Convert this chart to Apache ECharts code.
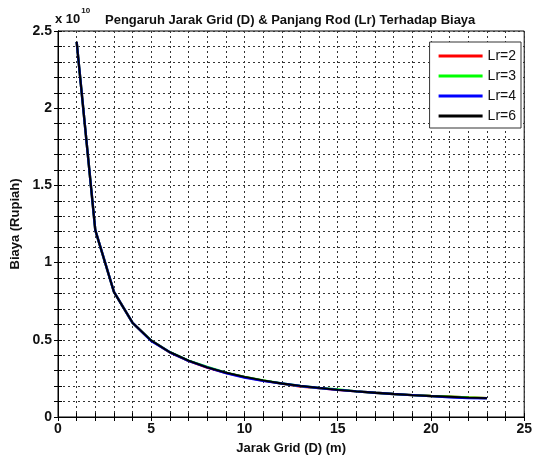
<!DOCTYPE html>
<html>
<head>
<meta charset="utf-8">
<script src="https://cdn.jsdelivr.net/npm/echarts@6/dist/echarts.min.js"></script>
<style>
  html, body { margin: 0; padding: 0; background: #fff; }
  #main { width: 535px; height: 460px; }
</style>
</head>
<body>
<div id="main"></div>
<script>
// jarak grid D (m)
var jarak = [1, 2, 3, 4, 5, 6, 7, 8, 9, 10, 11, 12, 13, 14, 15, 16, 17, 18, 19, 20, 21, 22, 23];
// biaya dalam satuan 10^10 Rupiah
var biayaLr2 = [2.43, 1.21, 0.81, 0.61, 0.495, 0.418, 0.363, 0.320, 0.286, 0.259, 0.236, 0.216, 0.197, 0.187, 0.176, 0.166, 0.157, 0.149, 0.142, 0.136, 0.131, 0.126, 0.122];
var biayaLr3 = [2.43, 1.21, 0.81, 0.61, 0.495, 0.420, 0.365, 0.325, 0.287, 0.260, 0.237, 0.217, 0.201, 0.188, 0.179, 0.166, 0.157, 0.149, 0.142, 0.136, 0.131, 0.126, 0.122];
var biayaLr4 = [2.43, 1.21, 0.81, 0.61, 0.493, 0.419, 0.364, 0.322, 0.285, 0.256, 0.234, 0.217, 0.201, 0.188, 0.176, 0.166, 0.157, 0.149, 0.142, 0.135, 0.127, 0.122, 0.121];
var biayaLr6 = [2.43, 1.21, 0.81, 0.61, 0.495, 0.420, 0.365, 0.322, 0.287, 0.260, 0.237, 0.217, 0.201, 0.188, 0.176, 0.166, 0.157, 0.149, 0.142, 0.136, 0.131, 0.126, 0.122];
var seriesNames = ['Lr=2', 'Lr=3', 'Lr=4', 'Lr=6'];
var seriesColors = ['#ff0000', '#00ff00', '#0000ff', '#000000'];

var chart = echarts.init(document.getElementById('main'), null, { renderer: 'canvas' });

function pairs(ys) {
  return jarak.map(function (d, i) { return [d, ys[i]]; });
}

var font = 'Liberation Sans, Arial, sans-serif';
var gridLine = { show: true, lineStyle: { color: '#333', width: 1, type: [2, 3] } };

var allData = [biayaLr2, biayaLr3, biayaLr4, biayaLr6];
var series = allData.map(function (ys, i) {
  return {
    name: seriesNames[i],
    type: 'line',
    data: pairs(ys),
    showSymbol: false,
    symbol: 'none',
    lineStyle: { color: seriesColors[i], width: i === 3 ? 1.8 : 2.4 },
    itemStyle: { color: seriesColors[i] },
    z: 10 + i
  };
});

var option = {
  backgroundColor: '#fff',
  animation: false,
  title: {
    text: 'Pengaruh Jarak Grid (D) & Panjang Rod (Lr) Terhadap Biaya',
    left: 100,
    top: 9,
    textStyle: { fontFamily: font, fontSize: 13, fontWeight: 'bold', color: '#111' }
  },
  graphic: [{
    type: 'text',
    left: 55,
    top: 7,
    style: {
      text: '{a|x 10}{b|10}',
      rich: {
        a: { fontFamily: font, fontSize: 13, fontWeight: 'bold', fill: '#111', verticalAlign: 'bottom', lineHeight: 19 },
        b: { fontFamily: font, fontSize: 8, fontWeight: 'bold', fill: '#111', verticalAlign: 'top', lineHeight: 10, padding: [0, 0, 9, 1] }
      }
    }
  }],
  legend: {
    data: seriesNames,
    orient: 'vertical',
    right: 14,
    top: 42,
    backgroundColor: '#fff',
    borderColor: '#333',
    borderWidth: 1,
    padding: [7, 5, 5, 9],
    itemGap: 6,
    itemWidth: 44,
    itemHeight: 13,
    icon: 'path://M0,5 L44,5 L44,8 L0,8 Z',
    textStyle: { fontFamily: font, fontSize: 14, color: '#111' }
  },
  grid: { left: 58, right: 10, top: 31, bottom: 41, show: true, borderColor: '#000', borderWidth: 1 },
  xAxis: [{
    type: 'value',
    min: 0,
    max: 25,
    interval: 1,
    name: 'Jarak Grid (D) (m)',
    nameLocation: 'middle',
    nameGap: 25,
    nameTextStyle: { fontFamily: font, fontSize: 13, fontWeight: 'bold', color: '#111' },
    axisLine: { show: true, lineStyle: { color: '#000' } },
    axisTick: { show: true, inside: true, length: 4, lineStyle: { color: '#000' } },
    axisLabel: {
      fontFamily: font, fontSize: 14, fontWeight: 'bold', color: '#111', margin: 5,
      formatter: function (v) { return Math.round(v) % 5 === 0 ? String(Math.round(v)) : ''; }
    },
    splitLine: gridLine
  }, {
    type: 'value',
    position: 'top',
    min: 0,
    max: 25,
    interval: 1,
    axisLine: { show: true, lineStyle: { color: '#000' } },
    axisTick: { show: true, inside: true, length: 4, lineStyle: { color: '#000' } },
    axisLabel: { show: false },
    splitLine: { show: false }
  }],
  yAxis: [{
    type: 'value',
    min: 0,
    max: 2.5,
    interval: 0.1,
    name: 'Biaya (Rupiah)',
    nameLocation: 'middle',
    nameGap: 33,
    nameTextStyle: { fontFamily: font, fontSize: 13, fontWeight: 'bold', color: '#111' },
    axisLine: { show: true, lineStyle: { color: '#000' } },
    axisTick: { show: true, inside: true, length: 4, lineStyle: { color: '#000' } },
    axisLabel: {
      fontFamily: font, fontSize: 14, fontWeight: 'bold', color: '#111', margin: 6,
      formatter: function (v) {
        var t = Math.round(v * 10);
        return t % 5 === 0 ? String(t / 10) : '';
      }
    },
    splitLine: gridLine
  }, {
    type: 'value',
    position: 'right',
    min: 0,
    max: 2.5,
    interval: 0.1,
    axisLine: { show: true, lineStyle: { color: '#000' } },
    axisTick: { show: true, inside: true, length: 4, lineStyle: { color: '#000' } },
    axisLabel: { show: false },
    splitLine: { show: false }
  }],
  series: series
};

chart.setOption(option);
</script>
</body>
</html>
